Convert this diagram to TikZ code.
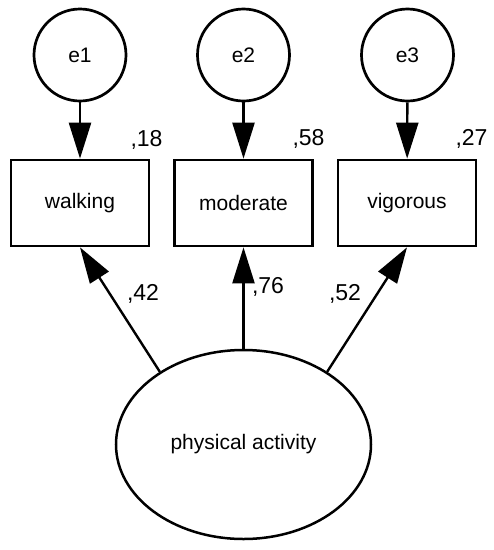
\documentclass[tikz,border=0pt]{standalone}
\usepackage{fontspec}
\setmainfont{Liberation Sans}
\usetikzlibrary{shapes.geometric,arrows.meta}
\begin{document}
\begin{tikzpicture}[x=1pt,y=-1pt,
  every node/.style={font=\fontsize{21}{25}\selectfont, inner sep=0pt},
  errc/.style={circle, draw, line width=2.7pt, minimum size=92pt},
  obs/.style={rectangle, draw, line width=2.7pt, minimum width=138pt, minimum height=86pt},
  lat/.style={ellipse, draw, line width=2.5pt, minimum width=255pt, minimum height=189pt},
  arr/.style={line width=2.4pt, -{Triangle[length=36pt,width=22pt]}},
  lbl/.style={anchor=base, font=\fontsize{23}{27}\selectfont}]
\useasboundingbox (0,0) rectangle (494,550);
\node[errc] (e1) at (80,55) {e1};
\node[errc] (e2) at (243.5,55) {e2};
\node[errc] (e3) at (407.5,55) {e3};
\node[obs] (walking) at (80,203) {walking};
\node[obs] (moderate) at (243.5,203) {moderate};
\node[obs] (vigorous) at (407,203) {vigorous};
\node[lat] (pa) at (243.5,444.5) {physical activity};
\draw[arr] (e1) -- (walking);
\draw[arr] (e2) -- (moderate);
\draw[arr] (e3) -- (vigorous);
\draw[arr] (pa.139) -- (walking.south);
\draw[arr] (pa) -- (moderate);
\draw[arr] (pa.41) -- (vigorous.south);
\node[lbl] (r1) at (146.5,146) {,18};
\node[lbl] (r2) at (308.5,145) {,58};
\node[lbl] (r3) at (471.5,145) {,27};
\node[lbl] (l1) at (143,300) {,42};
\node[lbl] (l2) at (268,293) {,76};
\node[lbl] (l3) at (345,300) {,52};
\end{tikzpicture}
\end{document}
